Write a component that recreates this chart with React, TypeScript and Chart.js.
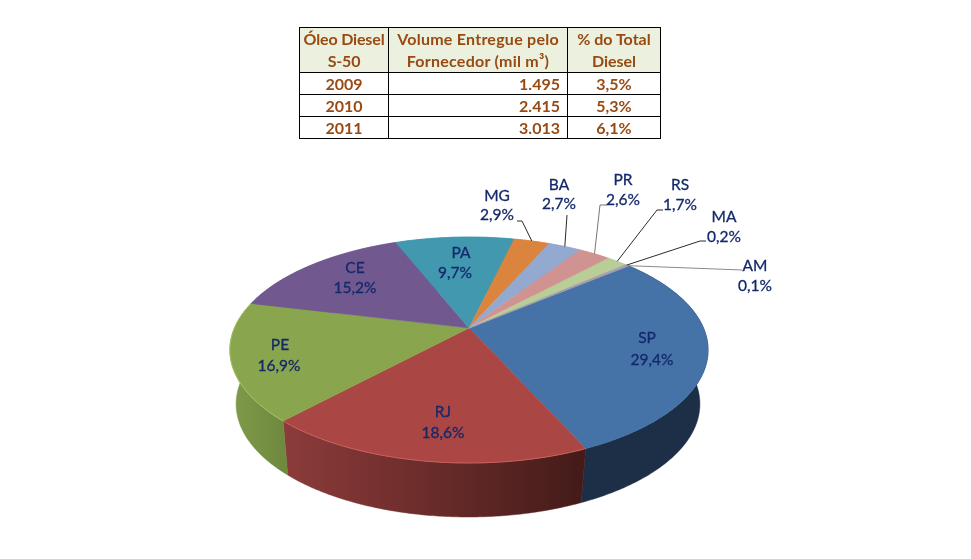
import React, { useEffect, useRef } from "react";
import { Chart, registerables } from "chart.js";

Chart.register(...registerables);

const states = ["SP", "RJ", "PE", "CE", "PA", "MG", "BA", "PR", "RS", "MA", "AM"];
const shares = [29.4, 18.6, 16.9, 15.2, 9.7, 2.9, 2.7, 2.6, 1.7, 0.2, 0.1];
const shareLabels = ["29,4%", "18,6%", "16,9%", "15,2%", "9,7%", "2,9%", "2,7%", "2,6%", "1,7%", "0,2%", "0,1%"];
const topColors = ["#4572a7", "#aa4643", "#89a54e", "#71588f", "#4198af", "#db843d", "#93a9cf", "#d19392", "#b9cd96", "#a99bbd", "#a0a0a8"];

const tableHeader = [["Óleo Diesel", "S-50"], ["Volume Entregue pelo", "Fornecedor (mil m³)"], ["% do Total", "Diesel"]];
const tableYears = ["2009", "2010", "2011"];
const tableVolumes = ["1.495", "2.415", "3.013"];
const tablePercents = ["3,5%", "5,3%", "6,1%"];

// layout of the perspective projection
const CX = 469, CY = 328, RX = 234.5, RY = 108.7, K = 0.1947, DEPTH = 54, BOTTOM_SCALE = 0.97;
const START_ROTATION = 50;

// label centres (name line, value line)
const labelPos: [number, number, number, number][] = [
  [647, 338, 652, 360], [443, 412, 443, 433], [280, 345, 279, 366], [355, 268, 355, 288],
  [461, 253, 455, 273], [497, 196, 497, 215], [559, 185, 559, 204], [623, 180, 623, 200],
  [680, 185, 680, 205], [724, 217, 724, 237], [755, 266, 755, 286],
];
// leader polylines, from the label side to just before the slice's rim
const leaderElbows: ([number, number][] | null)[] = [
  null, null, null, null, null,
  [[517, 221], [522, 221]],
  [[567, 215]],
  [[607, 205], [600, 205]],
  [[663, 210], [657, 210]],
  [[706, 241], [700, 241]],
  [[742, 270]],
];

const project = (a: number, bottom = false): [number, number] => {
  const u = Math.cos(a), v = Math.sin(a), w = 1 - K * v;
  const x = (RX * u) / w, y = (RY * v) / w;
  return bottom ? [CX - 1 + x * BOTTOM_SCALE, CY + DEPTH + y] : [CX + x, CY + y];
};

const wallFill = (ctx: CanvasRenderingContext2D, i: number) => {
  if (i === 0) return "#1c2f47";
  const g = ctx.createLinearGradient(286, 0, 590, 0);
  if (i === 1) {
    g.addColorStop(0, "#8b3b3a");
    g.addColorStop(0.5, "#682b29");
    g.addColorStop(1, "#421a18");
    return g;
  }
  if (i === 2) {
    const h = ctx.createLinearGradient(230, 0, 290, 0);
    h.addColorStop(0, "#7f9b49");
    h.addColorStop(1, "#6d873e");
    return h;
  }
  return topColors[i];
};

const pie3d = {
  id: "pie3d",
  beforeDatasetDraw(chart: any) {
    const ctx: CanvasRenderingContext2D = chart.ctx;
    const arcs = chart.getDatasetMeta(0).data;
    const edge = (s: number, e: number, bottom = false) => {
      const n = Math.max(2, Math.ceil((e - s) / 0.01));
      const pts: [number, number][] = [];
      for (let j = 0; j <= n; j++) pts.push(project(s + ((e - s) * j) / n, bottom));
      return pts;
    };
    ctx.save();
    // walls
    arcs.forEach((arc: any, i: number) => {
      const top = edge(arc.startAngle, arc.endAngle);
      const bot = edge(arc.startAngle, arc.endAngle, true).reverse();
      ctx.beginPath();
      [...top, ...bot].forEach((p, j) => (j ? ctx.lineTo(p[0], p[1]) : ctx.moveTo(p[0], p[1])));
      ctx.closePath();
      const f = wallFill(ctx, i);
      ctx.fillStyle = f;
      ctx.strokeStyle = f;
      ctx.lineWidth = 0.5;
      ctx.fill();
      ctx.stroke();
    });
    // top surface
    arcs.forEach((arc: any, i: number) => {
      ctx.beginPath();
      ctx.moveTo(CX, CY);
      edge(arc.startAngle, arc.endAngle).forEach((p) => ctx.lineTo(p[0], p[1]));
      ctx.closePath();
      ctx.fillStyle = topColors[i];
      ctx.strokeStyle = topColors[i];
      ctx.lineWidth = 0.5;
      ctx.fill();
      ctx.stroke();
    });
    // rim highlights
    [[1, "#c9605c"], [2, "#a6c264"]].forEach(([i, c]: any) => {
      const arc = arcs[i];
      ctx.beginPath();
      edge(arc.startAngle, arc.endAngle).forEach((p, j) => (j ? ctx.lineTo(p[0], p[1]) : ctx.moveTo(p[0], p[1])));
      ctx.strokeStyle = c;
      ctx.lineWidth = 1;
      ctx.stroke();
    });
    // leaders
    arcs.forEach((arc: any, i: number) => {
      const elbows = leaderElbows[i];
      if (!elbows) return;
      const rim = project((arc.startAngle + arc.endAngle) / 2);
      ctx.beginPath();
      elbows.forEach((p, j) => (j ? ctx.lineTo(p[0], p[1]) : ctx.moveTo(p[0], p[1])));
      ctx.lineTo(rim[0], rim[1]);
      ctx.strokeStyle = i === 10 ? "#8a8a8a" : i === 7 ? "#777777" : "#2a2a2a";
      ctx.lineWidth = 1;
      ctx.stroke();
    });
    // labels
    ctx.font = "15.5px Lato, Carlito, sans-serif";
    ctx.fillStyle = "#14296b";
    ctx.strokeStyle = "#14296b";
    ctx.lineWidth = 0.3;
    ctx.textAlign = "center";
    ctx.textBaseline = "middle";
    states.forEach((s, i) => {
      const [x1, y1, x2, y2] = labelPos[i];
      ctx.fillText(s, x1, y1);
      ctx.strokeText(s, x1, y1);
      ctx.fillText(shareLabels[i], x2, y2);
      ctx.strokeText(shareLabels[i], x2, y2);
    });
    ctx.restore();
    return false;
  },
};

const cell: React.CSSProperties = {
  border: "1px solid #000",
  padding: "0 7px",
  textAlign: "center",
  color: "#984a12",
  fontFamily: "Lato, Carlito, sans-serif",
  fontWeight: 700,
  fontSize: 16,
  letterSpacing: 0,
  lineHeight: "21px",
  height: 22,
  boxSizing: "border-box",
};

const headerSpacing = [-0.15, 0.25, 0];

export default function App() {
  const ref = useRef<HTMLCanvasElement>(null);
  useEffect(() => {
    const chart = new Chart(ref.current!, {
      type: "pie",
      data: { labels: states, datasets: [{ data: shares, backgroundColor: topColors, borderWidth: 0 }] },
      options: {
        responsive: false,
        animation: false,
        rotation: START_ROTATION,
        plugins: { legend: { display: false }, tooltip: { enabled: false } },
      },
      plugins: [pie3d as any],
    });
    return () => chart.destroy();
  }, []);
  return (
    <div style={{ position: "absolute", left: 0, top: 0, width: 971, height: 559, background: "#fff", overflow: "hidden" }}>
      <canvas ref={ref} width={971} height={559} style={{ position: "absolute", left: 0, top: 0, display: "block" }} />
      <table style={{ position: "absolute", left: 299, top: 27, width: 361, borderCollapse: "collapse", tableLayout: "fixed" }}>
        <colgroup>
          <col style={{ width: 89 }} />
          <col style={{ width: 179 }} />
          <col style={{ width: 93 }} />
        </colgroup>
        <tbody>
          <tr>
            {tableHeader.map((h, i) => (
              <td key={i} style={{ ...cell, background: "#ebf1de", padding: 0, height: 45, lineHeight: "22px", whiteSpace: "nowrap", letterSpacing: headerSpacing[i] }}>
                {h[0]}
                <br />
                {h[1]}
              </td>
            ))}
          </tr>
          {tableYears.map((y, i) => (
            <tr key={y}>
              <td style={cell}>{y}</td>
              <td style={{ ...cell, textAlign: "right" }}>{tableVolumes[i]}</td>
              <td style={cell}>{tablePercents[i]}</td>
            </tr>
          ))}
        </tbody>
      </table>
    </div>
  );
}
